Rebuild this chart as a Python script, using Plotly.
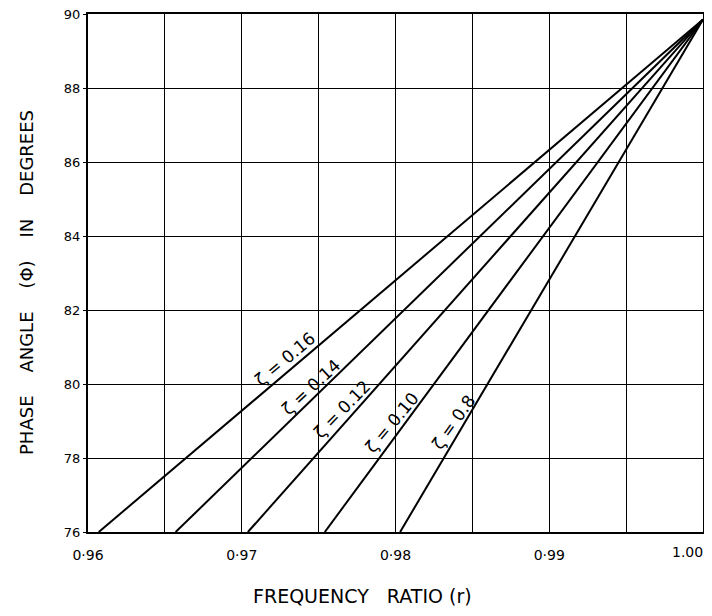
import plotly.graph_objects as go

# Data
zeta_labels = ["ζ = 0.16", "ζ = 0.14", "ζ = 0.12", "ζ = 0.10", "ζ = 0.8"]
r_start = [0.9607, 0.9657, 0.9704, 0.9754, 0.9803]   # frequency ratio where each line meets 76°
phi_start = [76, 76, 76, 76, 76]
r_end = [1.0, 1.0, 1.0, 1.0, 1.0]
phi_end = [89.85, 89.85, 89.85, 89.85, 89.85]

x_tickvals = [0.96, 0.965, 0.97, 0.975, 0.98, 0.985, 0.99, 0.995, 1.00]
x_ticktext = ["0·96", "", "0·97", "", "0·98", "", "0·99", "", ""]
x_last_label = "1.00"
y_tickvals = [76, 78, 80, 82, 84, 86, 88, 90]
y_ticktext = ["76", "78", "80", "82", "84", "86", "88", "90"]

x_title = "FREQUENCY\u00a0\u00a0 RATIO (r)"
y_title = "PHASE\u00a0\u00a0\u00a0 ANGLE\u00a0\u00a0\u00a0 (Φ)\u00a0\u00a0\u00a0 IN\u00a0\u00a0\u00a0 DEGREES"

# label placement (layout)
label_x = [0.97281, 0.97451, 0.97654, 0.97974, 0.98379]
label_y = [80.68, 79.92, 79.32, 78.95, 78.97]
label_angle = [-40, -43, -46, -50, -55]

FONT = "DejaVu Sans"
OFF = 8                      # page body margin of the html page
W, H = 712 - 2 * OFF, 616 - 2 * OFF
ML, MT = 88 - OFF, 14 - OFF
MR = W - (703 - OFF)
PH = 532 - 14
MB = H - MT - PH
PW = W - ML - MR

fig = go.Figure()
for i in range(len(zeta_labels)):
    fig.add_trace(go.Scatter(
        x=[r_start[i], r_end[i]], y=[phi_start[i], phi_end[i]],
        mode="lines", line=dict(color="black", width=2),
        showlegend=False, hoverinfo="skip"))

for i in range(len(zeta_labels)):
    fig.add_annotation(x=label_x[i], y=label_y[i], text=zeta_labels[i],
                       textangle=label_angle[i], showarrow=False,
                       font=dict(family=FONT, size=17, color="black"))

# last x tick label, right-aligned at the figure edge
fig.add_annotation(xref="paper", yref="paper", x=1.0, y=0,
                   xanchor="right", yanchor="middle", xshift=MR, yshift=-20,
                   borderpad=0,
                   text=x_last_label, showarrow=False,
                   font=dict(family=FONT, size=14, color="black"))

fig.add_annotation(xref="paper", yref="paper",
                   x=(362 - 88) / PW, y=-(596 - 532) / PH,
                   xanchor="center", yanchor="middle",
                   text=x_title, showarrow=False,
                   font=dict(family=FONT, size=19, color="black"))
fig.add_annotation(xref="paper", yref="paper",
                   x=-(88 - 26) / PW, y=(532 - 283) / PH,
                   xanchor="center", yanchor="middle", textangle=-90,
                   text=y_title, showarrow=False,
                   font=dict(family=FONT, size=18, color="black"))

fig.update_layout(
    width=W, height=H,
    margin=dict(l=ML, r=MR, t=MT, b=MB, autoexpand=False),
    paper_bgcolor="white", plot_bgcolor="white",
    showlegend=False,
    xaxis=dict(range=[0.96, 1.0], tickvals=x_tickvals, ticktext=x_ticktext,
               showgrid=True, gridcolor="black", gridwidth=1,
               showline=True, linecolor="black", linewidth=2, mirror=True,
               ticks="", zeroline=False, automargin=False,
               ticklabeloverflow="allow", ticklabelstandoff=9,
               tickfont=dict(family=FONT, size=14, color="black")),
    yaxis=dict(range=[76, 90], tickvals=y_tickvals, ticktext=y_ticktext,
               showgrid=True, gridcolor="black", gridwidth=1,
               showline=True, linecolor="black", linewidth=2, mirror=True,
               ticks="outside", ticklen=3, tickcolor="black", zeroline=False,
               automargin=False, ticklabeloverflow="allow",
               tickfont=dict(family=FONT, size=13, color="black")),
)

fig.write_html("out.html")
